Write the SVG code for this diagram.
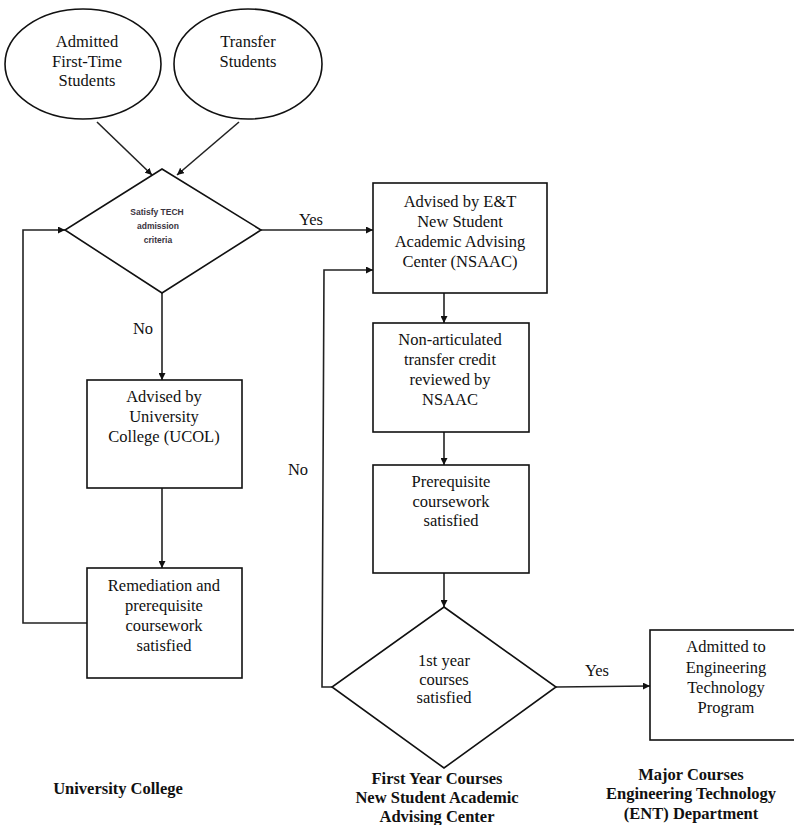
<svg xmlns="http://www.w3.org/2000/svg" width="794" height="825" viewBox="0 0 794 825">
<style>
.shape{fill:#fff;stroke:#111;stroke-width:1.6}
.t{font-family:'Liberation Serif','Times New Roman',serif;font-size:16.5px;fill:#111;text-anchor:middle}
.s{font-family:'Liberation Sans',Arial,sans-serif;font-size:8.5px;font-weight:bold;fill:#3a3440;text-anchor:middle}
.b{font-family:'Liberation Serif','Times New Roman',serif;font-size:16.5px;font-weight:bold;fill:#111;text-anchor:middle}
.c{fill:none;stroke:#222;stroke-width:1.6;marker-end:url(#ah)}
</style>
<defs>
<marker id="ah" viewBox="0 0 10 10" refX="10" refY="5" markerWidth="7" markerHeight="7" markerUnits="userSpaceOnUse" orient="auto">
<path d="M0,0 L10,5 L0,10 z" fill="#111"/>
</marker>
</defs>
<rect width="794" height="825" fill="#fff"/>
<g id="connectors">
<line class="c" x1="97" y1="122" x2="152" y2="175"/>
<line class="c" x1="239" y1="122" x2="177" y2="175"/>
<line class="c" x1="261" y1="230" x2="373" y2="230"/>
<line class="c" x1="162" y1="293" x2="162" y2="380"/>
<line class="c" x1="162" y1="488" x2="162" y2="568"/>
<polyline class="c" points="87,623 23,623 23,230 65,230"/>
<line class="c" x1="444" y1="293" x2="444" y2="323"/>
<line class="c" x1="444" y1="432" x2="444" y2="465"/>
<line class="c" x1="444" y1="573" x2="444" y2="607"/>
<polyline class="c" points="332,687 322,687 324,270 373,270"/>
<line class="c" x1="556" y1="687" x2="650" y2="686"/>
<text class="t" x="311" y="225">Yes</text>
<text class="t" x="143" y="334">No</text>
<text class="t" x="298" y="475">No</text>
<text class="t" x="597" y="676">Yes</text>
</g>
<g id="n_firsttime">
<ellipse class="shape" cx="83" cy="64" rx="78" ry="55"/>
<text class="t" x="87" y="47">Admitted</text>
<text class="t" x="87" y="67">First-Time</text>
<text class="t" x="87" y="86">Students</text>
</g>
<g id="n_transfer">
<ellipse class="shape" cx="248" cy="64" rx="74" ry="55"/>
<text class="t" x="248" y="47">Transfer</text>
<text class="t" x="248" y="67">Students</text>
</g>
<g id="n_satisfy">
<polygon class="shape" points="162,169 261,230 162,293 65,230"/>
<text class="s" x="157" y="215">Satisfy TECH</text>
<text class="s" x="158" y="229">admission</text>
<text class="s" x="158" y="243">criteria</text>
</g>
<g id="n_ucol">
<rect class="shape" x="87" y="380" width="155" height="108"/>
<text class="t" x="164" y="402">Advised by</text>
<text class="t" x="164" y="422">University</text>
<text class="t" x="164" y="442">College (UCOL)</text>
</g>
<g id="n_remediation">
<rect class="shape" x="87" y="568" width="155" height="110"/>
<text class="t" x="164" y="591">Remediation and</text>
<text class="t" x="164" y="611">prerequisite</text>
<text class="t" x="164" y="631">coursework</text>
<text class="t" x="164" y="651">satisfied</text>
</g>
<g id="n_nsaac">
<rect class="shape" x="373" y="183" width="174" height="110"/>
<text class="t" x="460" y="206.5">Advised by E&amp;T</text>
<text class="t" x="460" y="226.5">New Student</text>
<text class="t" x="460" y="246.5">Academic Advising</text>
<text class="t" x="460" y="266.5">Center (NSAAC)</text>
</g>
<g id="n_credit">
<rect class="shape" x="373" y="323" width="156" height="109"/>
<text class="t" x="450" y="345">Non-articulated</text>
<text class="t" x="450" y="365">transfer credit</text>
<text class="t" x="450" y="385">reviewed by</text>
<text class="t" x="450" y="405">NSAAC</text>
</g>
<g id="n_prereq">
<rect class="shape" x="373" y="465" width="156" height="108"/>
<text class="t" x="451" y="487">Prerequisite</text>
<text class="t" x="451" y="506.5">coursework</text>
<text class="t" x="451" y="526">satisfied</text>
</g>
<g id="n_firstyear">
<polygon class="shape" points="444,607 556,687 444,768 332,687"/>
<text class="t" x="444" y="666">1st year</text>
<text class="t" x="444" y="685">courses</text>
<text class="t" x="444" y="703">satisfied</text>
</g>
<g id="n_admitted">
<rect class="shape" x="650" y="630" width="160" height="110"/>
<text class="t" x="726" y="652">Admitted to</text>
<text class="t" x="726" y="673">Engineering</text>
<text class="t" x="726" y="693">Technology</text>
<text class="t" x="726" y="713">Program</text>
</g>
<g id="labels">
<text class="b" x="118" y="794">University College</text>
<text class="b" x="437" y="784">First Year Courses</text>
<text class="b" x="437" y="803">New Student Academic</text>
<text class="b" x="437" y="822">Advising Center</text>
<text class="b" x="691" y="780">Major Courses</text>
<text class="b" x="691" y="799">Engineering Technology</text>
<text class="b" x="691" y="819">(ENT) Department</text>
</g>
</svg>
